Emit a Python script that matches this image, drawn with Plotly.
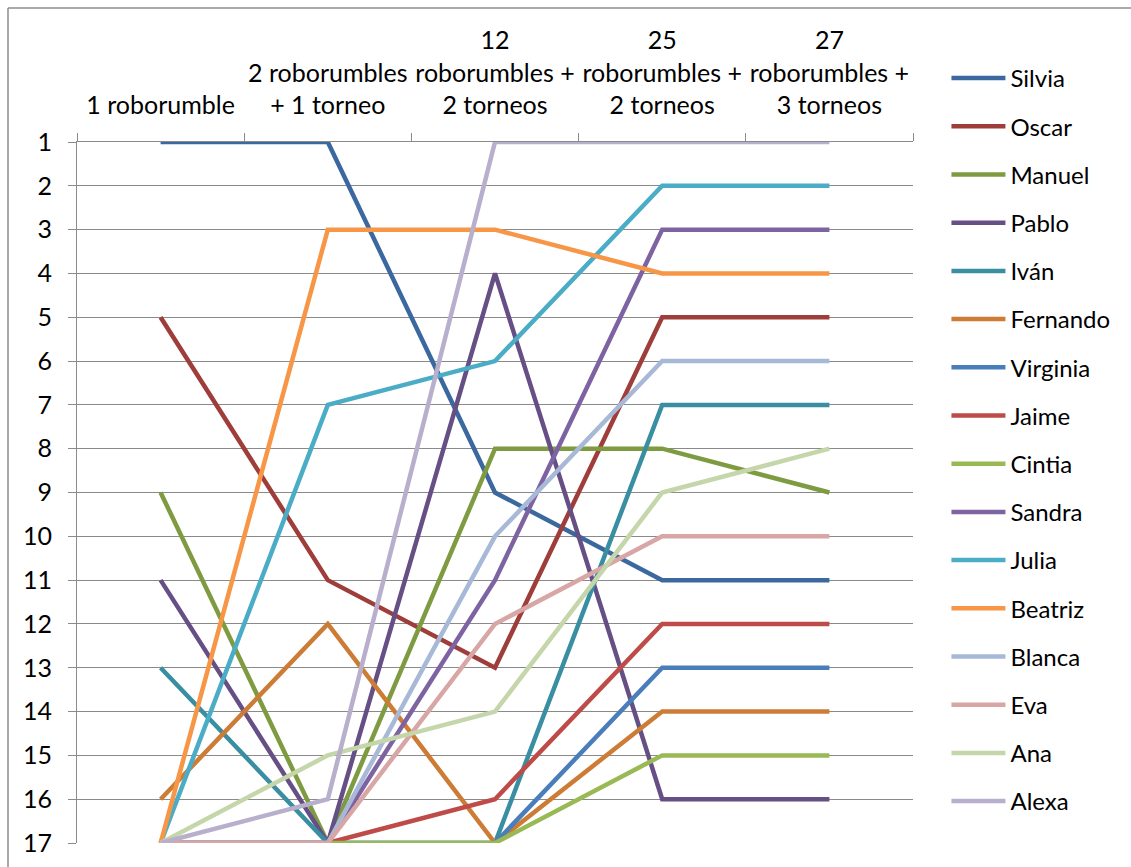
import plotly.graph_objects as go

# Stage labels (top axis) and final ranking positions of each player
stages = [
    "1 roborumble",
    "2 roborumbles<br>+ 1 torneo",
    "12<br>roborumbles +<br>2 torneos",
    "25<br>roborumbles +<br>2 torneos",
    "27<br>roborumbles +<br>3 torneos",
]

silvia = [1, 1, 9, 11, 11]
oscar = [5, 11, 13, 5, 5]
manuel = [9, 17, 8, 8, 9]
pablo = [11, 17, 4, 16, 16]
ivan = [13, 17, 17, 7, 7]
fernando = [16, 12, 17, 14, 14]
virginia = [17, 17, 17, 13, 13]
jaime = [17, 17, 16, 12, 12]
cintia = [17, 17, 17, 15, 15]
sandra = [17, 17, 11, 3, 3]
julia = [17, 7, 6, 2, 2]
beatriz = [17, 3, 3, 4, 4]
blanca = [17, 17, 10, 6, 6]
eva = [17, 17, 12, 10, 10]
ana = [17, 15, 14, 9, 8]
alexa = [17, 16, 1, 1, 1]

rank_ticks = list(range(1, 18))

series = [
    ("Silvia", silvia, "#3B689E"),
    ("Oscar", oscar, "#9E3D3A"),
    ("Manuel", manuel, "#7F9B42"),
    ("Pablo", pablo, "#654F85"),
    ("Iván", ivan, "#3A8EA2"),
    ("Fernando", fernando, "#CD7C35"),
    ("Virginia", virginia, "#4A7EBB"),
    ("Jaime", jaime, "#BE4B48"),
    ("Cintia", cintia, "#98B954"),
    ("Sandra", sandra, "#7E63A2"),
    ("Julia", julia, "#4BACC6"),
    ("Beatriz", beatriz, "#F79646"),
    ("Blanca", blanca, "#A7B9D7"),
    ("Eva", eva, "#D7A6A5"),
    ("Ana", ana, "#C4D6AA"),
    ("Alexa", alexa, "#B8AFCC"),
]

FONT = "Lato"
GRID = "#8A8A8A"

fig = go.Figure()
for i, (name, vals, color) in enumerate(series):
    fig.add_trace(go.Scatter(
        x=stages, y=vals, name=name, mode="lines",
        line=dict(color=color, width=4.5),
        legendgroup=f"g{i}", cliponaxis=False,
    ))

fig.update_layout(
    width=1131, height=867,
    margin=dict(l=77, r=218, t=142, b=24, autoexpand=False),
    paper_bgcolor="white", plot_bgcolor="white",
    font=dict(family=FONT, size=25, color="#000000"),
    showlegend=True,
    legend=dict(
        x=1.04, y=(843 - 56) / 701, xanchor="left", yanchor="top",
        font=dict(family=FONT, size=24, color="#000000"),
        tracegroupgap=14, itemwidth=54, bgcolor="rgba(0,0,0,0)",
        maxheight=1.0,
    ),
    xaxis=dict(
        type="category", side="top", tickson="boundaries", tickangle=0,
        automargin=False,
        ticks="outside", ticklen=8, tickcolor=GRID, tickwidth=1,
        showline=True, linecolor=GRID, linewidth=1,
        showgrid=False, zeroline=False, ticklabelstandoff=17,
        tickfont=dict(family=FONT, size=25, color="#000000"),
        range=[-0.5, 4.5],
    ),
    yaxis=dict(
        range=[17, 1], tickvals=rank_ticks, ticktext=[str(v) for v in rank_ticks],
        automargin=False,
        ticks="outside", ticklen=8, tickcolor=GRID, tickwidth=1,
        showline=True, linecolor=GRID, linewidth=1,
        showgrid=True, gridcolor=GRID, gridwidth=1, zeroline=False,
        ticklabelstandoff=11,
        tickfont=dict(family=FONT, size=25, color="#000000"),
    ),
    shapes=[
        dict(type="line", xref="paper", yref="paper",
             x0=(8 - 77) / 836, x1=(8 - 77) / 836, y0=(843 - 8) / 701, y1=-0.2,
             line=dict(color="#8C8C8C", width=1.5)),
        dict(type="line", xref="paper", yref="paper",
             x0=(8 - 77) / 836, x1=1.3, y0=(843 - 8) / 701, y1=(843 - 8) / 701,
             line=dict(color="#8C8C8C", width=1.5)),
    ],
)

fig.write_html("out.html")
